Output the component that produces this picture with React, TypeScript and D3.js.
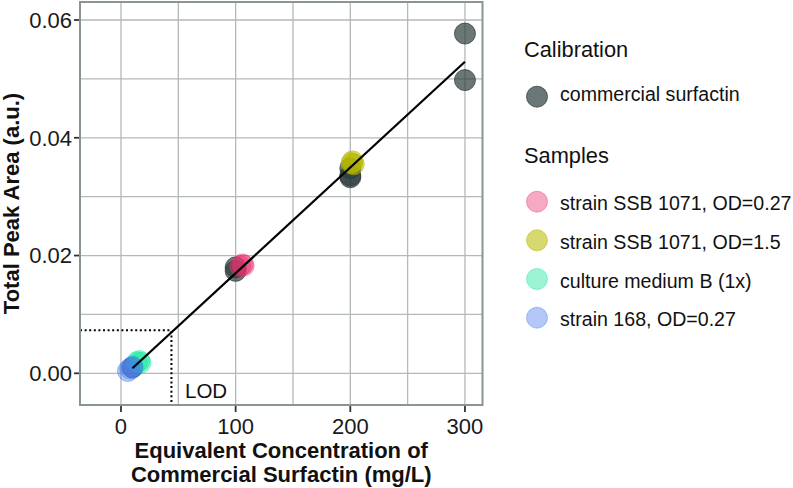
import React from "react";
import * as d3 from "d3";

// ---- data ----
const calibConc = [10, 100, 100, 200, 200, 200, 300, 300];
const calibArea = [0.001, 0.018, 0.0174, 0.0348, 0.0336, 0.0333, 0.0577, 0.0498];

const sampleNames = [
  "strain SSB 1071, OD=0.27",
  "strain SSB 1071, OD=1.5",
  "culture medium B (1x)",
  "strain 168, OD=0.27",
];
const sampleConc = [
  [104, 106, 107],
  [201, 202, 203],
  [14, 16, 17],
  [6, 8, 10],
];
const sampleArea = [
  [0.0182, 0.0185, 0.0183],
  [0.0357, 0.036, 0.0355],
  [0.0019, 0.0021, 0.0018],
  [0.0004, 0.0008, 0.0011],
];
const sampleColors = ["#e8336f", "#b8b800", "#10e69c", "#4a7cf0"];
const sampleOpacity = [0.42, 0.55, 0.42, 0.42];
const calibColor = "#2c3d3d";
const calibLabel = "commercial surfactin";

const lodX = 44;
const lodY = 0.0073;

const xTicks = [0, 100, 200, 300];
const xMinor = [50, 150, 250];
const yTicks = [0, 0.02, 0.04, 0.06];
const yMinor = [0.01, 0.03, 0.05];

const xDomain = [-35.75, 315.3];
const yDomain = [-0.00538, 0.06306];

// ---- layout ----
const W = 793;
const H = 488;
const PL = 80;
const PR = 482.5;
const PT = 2;
const PB = 405;
const FONT = "'Liberation Sans', Arial, sans-serif";

export default function App() {
  const x = d3.scaleLinear().domain(xDomain).range([PL, PR]);
  const y = d3.scaleLinear().domain(yDomain).range([PB, PT]);

  // least squares fit on calibration
  const mx = d3.mean(calibConc) as number;
  const my = d3.mean(calibArea) as number;
  let sxy = 0;
  let sxx = 0;
  calibConc.forEach((c, i) => {
    sxy += (c - mx) * (calibArea[i] - my);
    sxx += (c - mx) * (c - mx);
  });
  const slope = sxy / sxx;
  const icpt = my - slope * mx;
  const [x0, x1] = d3.extent(calibConc) as [number, number];
  const line = d3.line<number>().x((d) => x(d)).y((d) => y(icpt + slope * d));

  const gridColor = "#b3b9b9";
  const r = 10.5;

  const legendX = 537;
  const sampleKeyY = [201.7, 240.3, 279, 317.7];

  return (
    <svg
      width={W}
      height={H}
      style={{ position: "absolute", left: 0, top: 0, background: "#fff" }}
      fontFamily={FONT}
    >
      <rect x={0} y={0} width={W} height={H} fill="#fff" />
      {/* grid */}
      {xMinor.concat(xTicks).map((t) => (
        <line key={"gx" + t} x1={x(t)} x2={x(t)} y1={PT} y2={PB} stroke={gridColor} strokeWidth={1.3} />
      ))}
      {yMinor.concat(yTicks).map((t) => (
        <line key={"gy" + t} x1={PL} x2={PR} y1={y(t)} y2={y(t)} stroke={gridColor} strokeWidth={1.3} />
      ))}
      {/* LOD */}
      <path
        d={`M${PL},${y(lodY)}L${x(lodX)},${y(lodY)}L${x(lodX)},${PB}`}
        fill="none"
        stroke="#000"
        strokeWidth={2}
        strokeDasharray="2,2.6"
      />
      <text x={185} y={397.7} fontSize={20.5} fill="#111">LOD</text>
      {/* calibration points */}
      {calibConc.map((c, i) => (
        <circle
          key={"c" + i}
          cx={x(c)}
          cy={y(calibArea[i])}
          r={r}
          fill={calibColor}
          fillOpacity={0.7}
          stroke={calibColor}
          strokeOpacity={0.75}
          strokeWidth={1}
        />
      ))}
      {/* samples */}
      {sampleConc.map((arr, s) =>
        arr.map((c, i) => (
          <circle
            key={"s" + s + "_" + i}
            cx={x(c)}
            cy={y(sampleArea[s][i])}
            r={r}
            fill={sampleColors[s]}
            fillOpacity={sampleOpacity[s]}
            stroke={sampleColors[s]}
            strokeOpacity={sampleOpacity[s]}
            strokeWidth={1}
          />
        ))
      )}
      {/* fit line */}
      <path d={line([x0, x1]) as string} fill="none" stroke="#000" strokeWidth={2.2} />
      {/* panel border */}
      <rect x={PL} y={PT} width={PR - PL} height={PB - PT} fill="none" stroke="#8a9494" strokeWidth={2} />
      {/* axes ticks */}
      {yTicks.map((t) => (
        <g key={"yt" + t}>
          <line x1={PL - 6} x2={PL - 1} y1={y(t)} y2={y(t)} stroke="#333" strokeWidth={1.8} />
          <text x={PL - 8} y={y(t)} dy="0.36em" textAnchor="end" fontSize={22} fill="#1a1a1a">
            {d3.format(".2f")(t)}
          </text>
        </g>
      ))}
      {xTicks.map((t) => (
        <g key={"xt" + t}>
          <line x1={x(t)} x2={x(t)} y1={PB + 1} y2={PB + 7} stroke="#333" strokeWidth={1.8} />
          <text x={x(t)} y={434} textAnchor="middle" fontSize={22} fill="#1a1a1a">
            {t}
          </text>
        </g>
      ))}
      {/* axis titles */}
      <text x={(PL + PR) / 2} y={458.3} textAnchor="middle" fontSize={22} fontWeight="bold" fill="#111">
        Equivalent Concentration of
      </text>
      <text x={(PL + PR) / 2} y={482} textAnchor="middle" fontSize={22} fontWeight="bold" fill="#111">
        Commercial Surfactin (mg/L)
      </text>
      <text
        transform={`translate(19,${(PT + PB) / 2}) rotate(-90)`}
        textAnchor="middle"
        fontSize={22}
        fontWeight="bold"
        fill="#111"
      >
        Total Peak Area (a.u.)
      </text>
      {/* legend */}
      <text x={524} y={57.3} fontSize={21.8} fill="#111">Calibration</text>
      <circle cx={legendX} cy={96.7} r={r} fill={calibColor} fillOpacity={0.7} stroke={calibColor} strokeOpacity={0.75} />
      <text x={560} y={100.5} fontSize={19.6} fill="#111">{calibLabel}</text>
      <text x={524} y={162.7} fontSize={21.8} fill="#111">Samples</text>
      {sampleNames.map((n, i) => (
        <g key={"lg" + i}>
          <circle
            cx={legendX}
            cy={sampleKeyY[i]}
            r={r}
            fill={sampleColors[i]}
            fillOpacity={sampleOpacity[i]}
            stroke={sampleColors[i]}
            strokeOpacity={sampleOpacity[i]}
          />
          <text x={560} y={sampleKeyY[i] + 8.5} fontSize={19.6} fill="#111">{n}</text>
        </g>
      ))}
    </svg>
  );
}
